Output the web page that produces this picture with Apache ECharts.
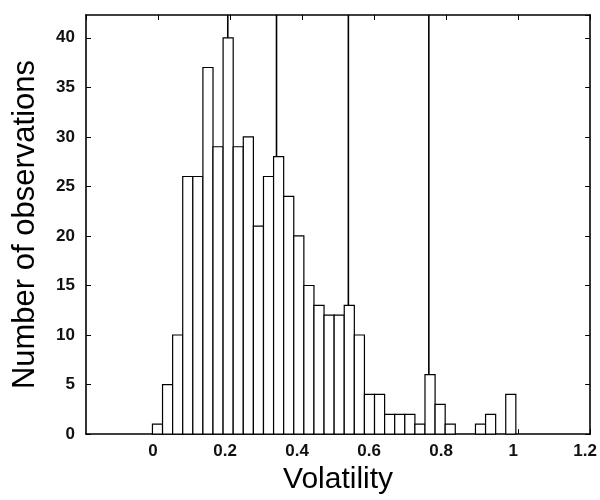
<!DOCTYPE html>
<html>
<head>
<meta charset="utf-8">
<script src="https://cdn.jsdelivr.net/npm/echarts@6/dist/echarts.min.js"></script>
<style>
  html, body { margin: 0; padding: 0; background: #fff; }
  #chart { width: 600px; height: 500px; }
</style>
</head>
<body>
<div id="chart"></div>
<script>
// histogram bins (left edge of first bin and bin width, in volatility units)
const binStart = -0.0155;
const binWidth = 0.02803;
const counts = [1, 5, 10, 26, 26, 37, 29, 40, 29, 30, 21, 26, 28, 24, 20, 15, 13, 12,
  12, 13, 10, 4, 4, 2, 2, 2, 1, 6, 3, 1, 0, 0, 1, 2, 0, 4];

// vertical marker lines
const vlineX = [0.1937, 0.329, 0.5285, 0.752];

const xTicks = { min: -0.2, max: 1.2, interval: 0.2 };
const yTicks = { min: 0, max: 42.3, interval: 5 };

const histData = counts.map((c, i) => [binStart + i * binWidth, binStart + (i + 1) * binWidth, c]);

const FONT = '"Liberation Sans", Arial, Helvetica, sans-serif';
const black = '#000';

const chart = echarts.init(document.getElementById('chart'));

const axisCommon = {
  axisLine: { show: true, onZero: false, lineStyle: { color: black, width: 1.6 } },
  axisTick: { show: true, inside: true, length: 5, lineStyle: { color: black, width: 1 } },
  splitLine: { show: false }
};

chart.setOption({
  animation: false,
  backgroundColor: '#fff',
  grid: { left: 86, right: 8, top: 15, bottom: 60 },
  xAxis: [
    Object.assign({
      type: 'value', position: 'bottom',
      min: xTicks.min, max: xTicks.max, interval: xTicks.interval,
      axisLabel: {
        showMinLabel: false, fontFamily: FONT, fontSize: 17, fontWeight: 'bold',
        color: '#111', margin: 9, padding: [0, 10, 0, 0]
      },
      name: 'Volatility', nameLocation: 'middle', nameGap: 27,
      nameTextStyle: { fontFamily: FONT, fontSize: 30, color: black }
    }, axisCommon),
    Object.assign({
      type: 'value', position: 'top',
      min: xTicks.min, max: xTicks.max, interval: xTicks.interval,
      axisLabel: { show: false }
    }, axisCommon)
  ],
  yAxis: [
    Object.assign({
      type: 'value', position: 'left',
      min: yTicks.min, max: yTicks.max, interval: yTicks.interval,
      axisLabel: { showMaxLabel: false, fontFamily: FONT, fontSize: 17, fontWeight: 'bold', color: '#111', margin: 11 },
      name: 'Number of observations', nameLocation: 'middle', nameGap: 45,
      nameTextStyle: { fontFamily: FONT, fontSize: 31, color: black }
    }, axisCommon),
    Object.assign({
      type: 'value', position: 'right',
      min: yTicks.min, max: yTicks.max, interval: yTicks.interval,
      axisLabel: { show: false }
    }, axisCommon)
  ],
  series: [
    {
      type: 'custom',
      z: 1,
      xAxisIndex: 0, yAxisIndex: 0,
      data: vlineX.map(x => [x]),
      renderItem: function (params, api) {
        const x = api.value(0);
        const p0 = api.coord([x, yTicks.min]);
        const p1 = api.coord([x, yTicks.max]);
        return {
          type: 'line',
          shape: { x1: p0[0], y1: p0[1], x2: p1[0], y2: p1[1] },
          style: { stroke: black, lineWidth: 1.6 }
        };
      }
    },
    {
      type: 'custom',
      z: 2,
      xAxisIndex: 0, yAxisIndex: 0,
      data: histData,
      encode: { x: [0, 1], y: 2 },
      renderItem: function (params, api) {
        const c = api.value(2);
        if (!c) return null;
        const p0 = api.coord([api.value(0), 0]);
        const p1 = api.coord([api.value(1), c]);
        return {
          type: 'rect',
          shape: { x: p0[0], y: p1[1], width: p1[0] - p0[0], height: p0[1] - p1[1] },
          style: { fill: '#fff', stroke: black, lineWidth: 1.2 }
        };
      }
    }
  ]
});
</script>
</body>
</html>
